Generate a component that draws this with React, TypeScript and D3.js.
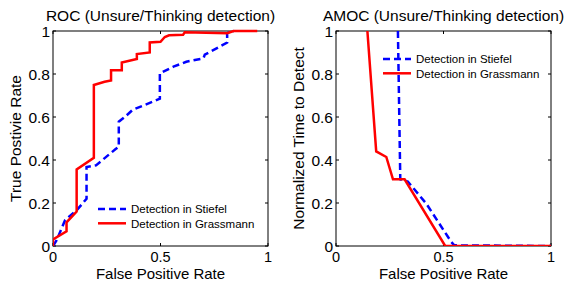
import * as d3 from "d3";

// ROC curves (false positive rate, true positive rate)
const rocFpr_grassmann = [0, 0, 0.063, 0.063, 0.11, 0.11, 0.19, 0.19, 0.24, 0.27, 0.27, 0.32, 0.32, 0.39, 0.39, 0.45, 0.45, 0.5, 0.52, 0.54, 0.605, 0.613, 0.81, 0.84, 0.95];
const rocTpr_grassmann = [0, 0.03, 0.068, 0.11, 0.16, 0.356, 0.41, 0.749, 0.764, 0.77, 0.817, 0.817, 0.853, 0.87, 0.893, 0.9, 0.947, 0.95, 0.972, 0.98, 0.983, 0.994, 0.99, 1, 1];
const rocFpr_stiefel = [0, 0.017, 0.056, 0.11, 0.156, 0.156, 0.2, 0.29, 0.306, 0.306, 0.334, 0.37, 0.497, 0.497, 0.56, 0.62, 0.7, 0.706, 0.81, 0.81, 0.84];
const rocTpr_stiefel = [0, 0.027, 0.12, 0.166, 0.22, 0.367, 0.375, 0.45, 0.462, 0.578, 0.6, 0.633, 0.685, 0.803, 0.834, 0.857, 0.873, 0.89, 0.946, 0.99, 1];

// AMOC curves (false positive rate, normalized time to detect)
const amocFpr_grassmann = [0.146, 0.187, 0.234, 0.265, 0.319, 0.508, 1];
const amocTime_grassmann = [1, 0.44, 0.414, 0.31, 0.31, 0, 0];
const amocFpr_stiefel = [0.288, 0.299, 0.334, 0.42, 0.536, 0.55, 1];
const amocTime_stiefel = [1, 0.31, 0.3, 0.197, 0.019, 0.003, 0];

const xTicks = [0, 0.5, 1];
const yTicks = [0, 0.2, 0.4, 0.6, 0.8, 1];
const seriesNames = ["Detection in Stiefel", "Detection in Grassmann"];

const FONT = "'Liberation Sans', Arial, Helvetica, sans-serif";
const FS = 15.5;
const W = 565;
const H = 284;
const plotTop = 31;
const plotBottom = 246;

interface PanelProps {
  left: number;
  title: string;
  yLabel: string;
  stiefel: [number, number][];
  grassmann: [number, number][];
  legendX: number;
  legendY: number;
}

const Panel = ({ left, title, yLabel, stiefel, grassmann, legendX, legendY }: PanelProps) => {
  const right = left + 215;
  const x = d3.scaleLinear().domain([0, 1]).range([left, right]);
  const y = d3.scaleLinear().domain([0, 1]).range([plotBottom, plotTop]);
  const line = d3
    .line<[number, number]>()
    .x((d) => x(d[0]))
    .y((d) => y(d[1]));
  const tk = 3;

  return (
    <g>
      <defs>
        <clipPath id={`clip-${left}`}>
          <rect x={left} y={plotTop - 2} width={216} height={plotBottom - plotTop + 2} />
        </clipPath>
      </defs>
      <rect x={left} y={plotTop} width={right - left} height={plotBottom - plotTop} fill="#fff" stroke="#000" strokeWidth={1} />
      {xTicks.map((t) => (
        <g key={`x${t}`}>
          <line x1={x(t)} x2={x(t)} y1={plotBottom} y2={plotBottom - tk} stroke="#000" />
          <line x1={x(t)} x2={x(t)} y1={plotTop} y2={plotTop + tk} stroke="#000" />
          <text x={x(t)} y={plotBottom + 16} textAnchor="middle" fontSize={14.5} fontFamily={FONT}>
            {String(t)}
          </text>
        </g>
      ))}
      {yTicks.map((t) => (
        <g key={`y${t}`}>
          <line x1={left} x2={left + tk} y1={y(t)} y2={y(t)} stroke="#000" />
          <line x1={right} x2={right - tk} y1={y(t)} y2={y(t)} stroke="#000" />
          <text x={left - 3} y={y(t) + 5.5} textAnchor="end" fontSize={FS} fontFamily={FONT}>
            {String(t)}
          </text>
        </g>
      ))}
      <g clipPath={`url(#clip-${left})`}>
        <path d={line(stiefel) ?? ""} fill="none" stroke="#0000ff" strokeWidth={2.5} strokeDasharray="7,4" />
        <path d={line(grassmann) ?? ""} fill="none" stroke="#ff0000" strokeWidth={2.5} />
      </g>
      <text x={(left + right) / 2} y={21} textAnchor="middle" fontSize={FS} fontFamily={FONT}>
        {title}
      </text>
      <text x={(left + right) / 2} y={279} textAnchor="middle" fontSize={15} fontFamily={FONT}>
        False Positive Rate
      </text>
      <text
        transform={`translate(${left - 32}, ${(plotTop + plotBottom) / 2}) rotate(-90)`}
        textAnchor="middle"
        fontSize={FS}
        fontFamily={FONT}
      >
        {yLabel}
      </text>
      {seriesNames.map((name, i) => (
        <g key={name}>
          <line
            x1={legendX}
            x2={legendX + 28}
            y1={legendY + i * 14.3}
            y2={legendY + i * 14.3}
            stroke={i === 0 ? "#0000ff" : "#ff0000"}
            strokeWidth={2.5}
            strokeDasharray={i === 0 ? "7,4" : undefined}
          />
          <text x={legendX + 33} y={legendY + i * 14.3 + 4.2} fontSize={11.5} fontFamily={FONT}>
            {name}
          </text>
        </g>
      ))}
    </g>
  );
};

const zip = (a: number[], b: number[]): [number, number][] => a.map((v, i) => [v, b[i]]);

export default function App() {
  return (
    <svg width={W} height={H} style={{ position: "absolute", left: 0, top: 0, background: "#fff" }}>
      <Panel
        left={53}
        title="ROC (Unsure/Thinking detection)"
        yLabel="True Postivie Rate"
        stiefel={zip(rocFpr_stiefel, rocTpr_stiefel)}
        grassmann={zip(rocFpr_grassmann, rocTpr_grassmann)}
        legendX={98}
        legendY={209}
      />
      <Panel
        left={336}
        title="AMOC (Unsure/Thinking detection)"
        yLabel="Normalized Time to Detect"
        stiefel={zip(amocFpr_stiefel, amocTime_stiefel)}
        grassmann={zip(amocFpr_grassmann, amocTime_grassmann)}
        legendX={383}
        legendY={59}
      />
    </svg>
  );
}
